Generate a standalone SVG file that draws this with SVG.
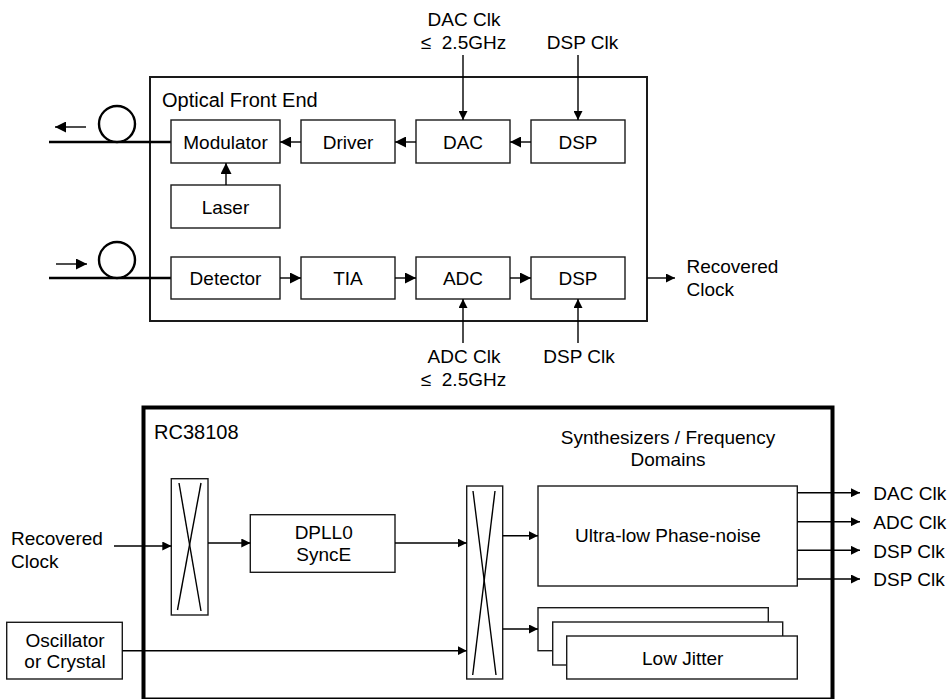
<svg xmlns="http://www.w3.org/2000/svg" width="949" height="699" viewBox="0 0 949 699">
<style>
text{font-family:"Liberation Sans",Arial,sans-serif;font-size:19px;fill:#000}
.t20{font-size:20px}
.box{fill:#fff;stroke:#1a1a1a;stroke-width:1.4}
.ln{fill:none;stroke:#000;stroke-width:1.4}
.fib{fill:none;stroke:#000;stroke-width:2.6}
.c{text-anchor:middle}
</style>
<defs>
<marker id="ah" viewBox="0 0 10 10" refX="10" refY="5" markerWidth="11" markerHeight="11" markerUnits="userSpaceOnUse" orient="auto"><path d="M0,0L10,5L0,10z" fill="#000"/></marker>
<marker id="as" viewBox="0 0 10 10" refX="10" refY="5" markerWidth="9" markerHeight="9" markerUnits="userSpaceOnUse" orient="auto"><path d="M0,0L10,5L0,10z" fill="#000"/></marker>
</defs>
<rect width="949" height="699" fill="#fff"/>

<g id="optical-front-end">
<rect x="150" y="77" width="497" height="244" fill="none" stroke="#1a1a1a" stroke-width="2"/>
<text x="162" y="107" class="t20">Optical Front End</text>
</g>
<g id="fiber-tx">
<line x1="49" y1="142" x2="171" y2="142" class="fib"/>
<circle cx="117" cy="124" r="18" fill="#fff" stroke="#000" stroke-width="2.4"/>
<line x1="86" y1="127" x2="55" y2="127" class="ln" stroke-width="1.8" marker-end="url(#ah)"/>
</g>
<g id="fiber-rx">
<line x1="49" y1="278" x2="171" y2="278" class="fib"/>
<circle cx="117" cy="260" r="18" fill="#fff" stroke="#000" stroke-width="2.4"/>
<line x1="56" y1="264" x2="87" y2="264" class="ln" stroke-width="1.8" marker-end="url(#ah)"/>
</g>
<g id="modulator"><rect x="171" y="120" width="109" height="43" class="box"/><text x="225.5" y="149" class="c">Modulator</text></g>
<g id="driver"><rect x="301" y="120" width="94" height="43" class="box"/><text x="348" y="149" class="c">Driver</text></g>
<g id="dac"><rect x="416" y="120" width="94" height="43" class="box"/><text x="463" y="149" class="c">DAC</text></g>
<g id="dsp-tx"><rect x="531" y="120" width="94" height="43" class="box"/><text x="578" y="149" class="c">DSP</text></g>
<g id="laser"><rect x="171" y="185" width="109" height="43" class="box"/><text x="225.5" y="213.5" class="c">Laser</text></g>
<g id="detector"><rect x="171" y="257" width="109" height="42" class="box"/><text x="225.5" y="285" class="c">Detector</text></g>
<g id="tia"><rect x="301" y="257" width="94" height="42" class="box"/><text x="348" y="285" class="c">TIA</text></g>
<g id="adc"><rect x="416" y="257" width="94" height="42" class="box"/><text x="463" y="285" class="c">ADC</text></g>
<g id="dsp-rx"><rect x="531" y="257" width="94" height="42" class="box"/><text x="578" y="285" class="c">DSP</text></g>

<g id="top-labels">
<text x="464" y="26" class="c">DAC Clk</text>
<text x="463.5" y="49" class="c" xml:space="preserve">≤  2.5GHz</text>
<text x="582.5" y="49" class="c">DSP Clk</text>
<text x="464" y="363" class="c">ADC Clk</text>
<text x="463.5" y="386" class="c" xml:space="preserve">≤  2.5GHz</text>
<text x="579" y="363" class="c">DSP Clk</text>
<text x="686.5" y="273">Recovered</text>
<text x="686.5" y="296">Clock</text>
</g>

<g id="rc38108">
<rect x="143.5" y="407.5" width="689" height="292" fill="none" stroke="#000" stroke-width="4"/>
<text x="154" y="439" class="t20">RC38108</text>
<text x="668" y="444" class="c">Synthesizers / Frequency</text>
<text x="668" y="466" class="c">Domains</text>
</g>
<g id="mux-in">
<rect x="171.3" y="478.7" width="36.7" height="136.3" class="box"/>
<line x1="179" y1="483" x2="201" y2="611" class="ln" stroke-width="1.1"/>
<line x1="201" y1="483" x2="177.5" y2="610" class="ln" stroke-width="1.1"/>
</g>
<g id="dpll0"><rect x="250.3" y="514.7" width="144.7" height="57.6" class="box"/><text x="323.7" y="539" class="c">DPLL0</text><text x="323.7" y="561" class="c">SyncE</text></g>
<g id="mux-out">
<rect x="466.7" y="486" width="36" height="193" class="box"/>
<line x1="473" y1="491" x2="496" y2="675" class="ln" stroke-width="1.1"/>
<line x1="495" y1="491" x2="472.7" y2="675" class="ln" stroke-width="1.1"/>
</g>
<g id="oscillator"><rect x="6.7" y="622.3" width="115.6" height="56.7" class="box"/><text x="65" y="647" class="c">Oscillator</text><text x="65" y="668" class="c">or Crystal</text></g>
<g id="ultra-low"><rect x="538" y="486" width="259.3" height="100" class="box"/><text x="668" y="542" class="c">Ultra-low Phase-noise</text></g>
<g id="low-jitter">
<rect x="538" y="607.7" width="230.3" height="43" class="box"/>
<rect x="552.7" y="622" width="230" height="43" class="box"/>
<rect x="566.7" y="636" width="230.6" height="43" class="box"/>
<text x="682.7" y="665" class="c">Low Jitter</text>
</g>
<g id="recovered-in-label"><text x="11" y="544.5">Recovered</text><text x="11" y="567.5">Clock</text></g>
<g id="out-labels">
<text x="873.3" y="500">DAC Clk</text>
<text x="873.3" y="529">ADC Clk</text>
<text x="873.3" y="557.5">DSP Clk</text>
<text x="873.3" y="586">DSP Clk</text>
</g>

<g id="connectors">
<line x1="301" y1="142" x2="280" y2="142" class="ln" stroke-width="1.8" marker-end="url(#ah)"/>
<line x1="416" y1="142" x2="395" y2="142" class="ln" stroke-width="1.8" marker-end="url(#ah)"/>
<line x1="531" y1="142" x2="510" y2="142" class="ln" stroke-width="1.8" marker-end="url(#ah)"/>
<line x1="226" y1="185" x2="226" y2="163" class="ln" stroke-width="1.8" marker-end="url(#ah)"/>
<line x1="280" y1="278" x2="301" y2="278" class="ln" stroke-width="1.8" marker-end="url(#ah)"/>
<line x1="395" y1="278" x2="416" y2="278" class="ln" stroke-width="1.8" marker-end="url(#ah)"/>
<line x1="510" y1="278" x2="531" y2="278" class="ln" stroke-width="1.8" marker-end="url(#ah)"/>
<line x1="463" y1="55" x2="463" y2="120" class="ln" marker-end="url(#as)"/>
<line x1="578" y1="55" x2="578" y2="120" class="ln" marker-end="url(#as)"/>
<line x1="463" y1="343" x2="463" y2="299" class="ln" marker-end="url(#as)"/>
<line x1="578" y1="343" x2="578" y2="299" class="ln" marker-end="url(#as)"/>
<line x1="647" y1="278" x2="675" y2="278" class="ln" marker-end="url(#as)"/>
<line x1="114" y1="546" x2="171.3" y2="546" class="ln" marker-end="url(#as)"/>
<line x1="208" y1="543" x2="250.3" y2="543" class="ln" marker-end="url(#as)"/>
<line x1="395" y1="543" x2="466.7" y2="543" class="ln" marker-end="url(#as)"/>
<line x1="122.3" y1="650.7" x2="466.7" y2="650.7" class="ln" marker-end="url(#as)"/>
<line x1="502.7" y1="535.7" x2="538" y2="535.7" class="ln" marker-end="url(#as)"/>
<line x1="502.7" y1="629" x2="538" y2="629" class="ln" marker-end="url(#as)"/>
<line x1="797.3" y1="492.7" x2="860" y2="492.7" class="ln" marker-end="url(#as)"/>
<line x1="797.3" y1="521.7" x2="860" y2="521.7" class="ln" marker-end="url(#as)"/>
<line x1="797.3" y1="550.3" x2="860" y2="550.3" class="ln" marker-end="url(#as)"/>
<line x1="797.3" y1="579" x2="860" y2="579" class="ln" marker-end="url(#as)"/>
</g>
</svg>
